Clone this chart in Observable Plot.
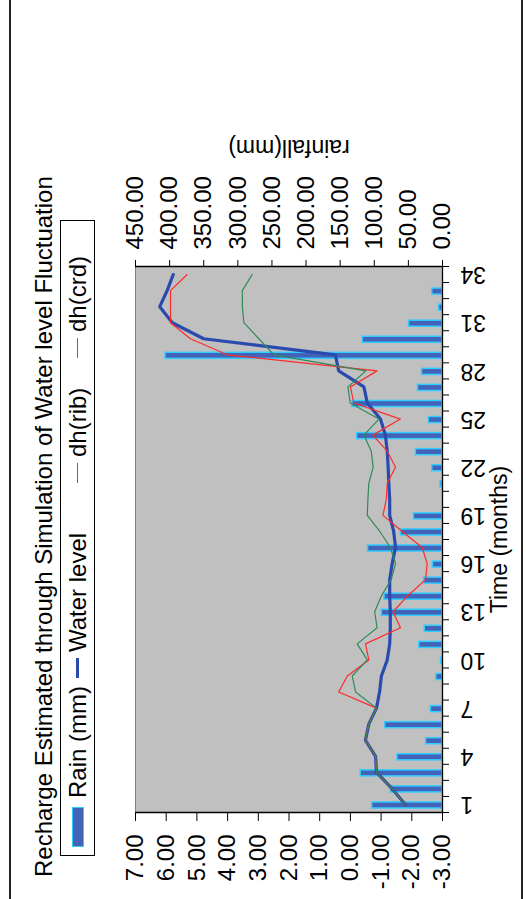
<!DOCTYPE html>
<html>
<head>
<meta charset="utf-8">
<script src="https://cdn.jsdelivr.net/npm/d3@7"></script>
<script src="https://cdn.jsdelivr.net/npm/@observablehq/plot@0.6"></script>
<style>
  html, body { margin: 0; padding: 0; background: #fff; overflow: hidden; width: 526px; height: 899px; }
  #page {
    position: absolute; left: 0; top: 0; width: 899px; height: 526px;
    transform-origin: 0 0; transform: translate(0px, 899px) rotate(-90deg);
    background: #fff; font-family: "Liberation Sans", Arial, sans-serif; color: #000;
  }
  .hline { position: absolute; left: 0; width: 899px; height: 2px; background: #222; }
  #title { position: absolute; left: 22px; top: 31.7px; font-size: 24px; line-height: 24px; white-space: nowrap; }
  #legend { position: absolute; left: 43px; top: 60px; width: 636px; height: 35px; box-sizing: border-box; border: 1px solid #000; background: #fff; }
  .ltext { position: absolute; top: 0; height: 33px; line-height: 33px; font-size: 24px; white-space: nowrap; }
  .layer { position: absolute; left: 0; top: 0; }
</style>
</head>
<body>
<div id="page">
  <div class="hline" style="top:9px"></div>
  <div class="hline" style="top:521px"></div>
  <div id="title">Recharge Estimated through Simulation of Water level Fluctuation</div>
  <div id="legend"></div>
  <div id="layerA" class="layer"></div>
  <div id="layerB" class="layer"></div>
</div>
<script>
// ---- data ----
const months = [1,2,3,4,5,6,7,8,9,10,11,12,13,14,15,16,17,18,19,20,21,22,23,24,25,26,27,28,29,30,31,32,33,34];
const rain = [103,76,120,66,24,84,17,0,9,2,34,26,89,85,27,14,109,61,42,0,3,15,39,125,20,132,36,30,406,117,49,5,15,0];
const waterLevel = [-1.79,-1.35,-0.85,-0.82,-0.49,-0.60,-0.85,-0.95,-1.01,-1.20,-1.28,-1.30,-1.30,-1.28,-1.28,-1.36,-1.47,-1.41,-1.28,-1.28,-1.25,-1.23,-1.20,-1.14,-0.98,-0.55,-0.44,0.38,0.49,4.78,5.80,6.21,5.97,5.77];
const dhRib = [-1.79,-1.35,-0.85,-0.82,-0.49,-0.60,-0.85,0.38,0.10,-0.60,-0.49,-1.63,-1.39,-1.87,-2.45,-2.50,-2.34,-1.69,-1.06,-1.17,-1.20,-1.47,-1.20,-0.73,-1.63,-0.11,0.00,-0.87,4.01,5.21,5.86,5.86,5.86,5.32];
const dhCrd = [-1.79,-1.35,-0.85,-0.82,-0.49,-0.60,-0.85,-0.17,-0.06,-0.55,-0.22,-0.87,-0.79,-1.01,-1.33,-1.47,-1.30,-0.96,-0.55,-0.57,-0.60,-0.74,-0.68,-0.44,-0.93,0.01,0.08,-0.50,2.49,2.98,3.47,3.52,3.52,3.20];
const monthTicks = [1,4,7,10,13,16,19,22,25,28,31,34];
const levelTicks = [-3,-2,-1,0,1,2,3,4,5,6,7];
const rainTicks = [0,50,100,150,200,250,300,350,400,450];
const seriesNames = ["Rain (mm)", "Water level", "dh(rib)", "dh(crd)"];

// ---- styles ----
const FONT = '"Liberation Sans", Arial, sans-serif';
const BAR_FILL = "#4263B8", BAR_STROKE = "#33CCFF";
const C_WL = "#2B4AAE", C_RIB = "#FF2A2A", C_CRD = "#2E8B57";
const W = 899, H = 526;
const M = {marginLeft: 86, marginRight: 267, marginTop: 135, marginBottom: 84};
const baseStyle = {background: "transparent", fontFamily: FONT, fontSize: "24px", color: "#000", overflow: "visible"};
const fmt2 = d => d.toFixed(2);

const rainRows = months.map((m, i) => ({month: m, rain: rain[i]})).filter(d => d.rain > 0);
const lineRows = months.map((m, i) => ({month: m, wl: waterLevel[i], rib: dhRib[i], crd: dhCrd[i]}));
const bounds = months.map(m => m - 0.5).concat([months[months.length - 1] + 0.5]);
const xDomain = [bounds[0], bounds[bounds.length - 1]];

// layer A: plot area, rain bars, rainfall axis
const A = Plot.plot({
  width: W, height: H, ...M, style: baseStyle,
  x: {domain: xDomain, axis: null},
  y: {domain: [0, 450], axis: null},
  marks: [
    Plot.frame({fill: "#C0C0C0", stroke: "#808080"}),
    Plot.rectY(rainRows, {x1: d => d.month - 0.5, x2: d => d.month + 0.5, y: "rain",
      insetLeft: 5, insetRight: 5, fill: BAR_FILL, stroke: BAR_STROKE, strokeWidth: 1.5}),
    Plot.ruleX([xDomain[1]], {stroke: "#000", strokeWidth: 1.3}),
    Plot.axisY({anchor: "right", ticks: rainTicks, tickFormat: fmt2, tickSize: 6, tickPadding: 11, label: null, stroke: "#000"}),
    Plot.text(["rainfall(mm)"], {text: d => d, frameAnchor: "right", dx: 119, rotate: -90,
      textAnchor: "middle", lineAnchor: "middle", fontSize: 23})
  ]
});
document.getElementById("layerA").appendChild(A);

// layer B: lines and primary axes
const B = Plot.plot({
  width: W, height: H, ...M, style: baseStyle,
  x: {domain: xDomain, axis: null},
  y: {domain: [levelTicks[0], levelTicks[levelTicks.length - 1]], axis: null},
  marks: [
    Plot.line(lineRows, {x: "month", y: "wl", stroke: C_WL, strokeWidth: 3.2}),
    Plot.line(lineRows, {x: "month", y: "rib", stroke: C_RIB, strokeWidth: 1.2}),
    Plot.line(lineRows, {x: "month", y: "crd", stroke: C_CRD, strokeWidth: 1.2}),
    Plot.ruleX([xDomain[0]], {stroke: "#000", strokeWidth: 1.3}),
    Plot.ruleY([levelTicks[0]], {stroke: "#000", strokeWidth: 1.3}),
    Plot.axisY({anchor: "left", ticks: levelTicks, tickFormat: fmt2, tickSize: 8, tickPadding: 14, label: null, stroke: "#000"}),
    Plot.axisX({anchor: "bottom", ticks: bounds, tickFormat: () => "", tickSize: 7, label: null, stroke: "#000"}),
    Plot.axisX({anchor: "bottom", ticks: monthTicks, tickFormat: d => String(d), tickSize: 0, tickPadding: 18, tickRotate: -90, label: null, fontSize: 23}),
    Plot.text(["Time (months)"], {text: d => d, frameAnchor: "bottom", dy: 48, textAnchor: "middle", lineAnchor: "top", fontSize: 23})
  ]
});
document.getElementById("layerB").appendChild(B);

// legend
const legend = document.getElementById("legend");
const keyLeft = [8, 177, 372, 497];      // relative to legend inner box
const keyWidth = [40, 20, 20, 20];
const textLeft = [57, 203, 398, 523];
const keyColor = [null, C_WL, C_RIB, C_CRD];
const keyThick = [0, 3, 1.2, 1.2];
seriesNames.forEach((name, i) => {
  const k = document.createElement("div");
  k.style.position = "absolute";
  k.style.left = keyLeft[i] + "px";
  k.style.width = keyWidth[i] + "px";
  if (i === 0) {
    k.style.top = "11px"; k.style.height = "12px"; k.style.boxSizing = "border-box";
    k.style.background = BAR_FILL; k.style.border = "1.5px solid " + BAR_STROKE;
  } else {
    k.style.top = (16.5 - keyThick[i] / 2) + "px"; k.style.height = keyThick[i] + "px";
    k.style.background = keyColor[i];
  }
  legend.appendChild(k);
  const t = document.createElement("div");
  t.className = "ltext";
  t.style.left = textLeft[i] + "px";
  t.textContent = name;
  legend.appendChild(t);
});
</script>
</body>
</html>
